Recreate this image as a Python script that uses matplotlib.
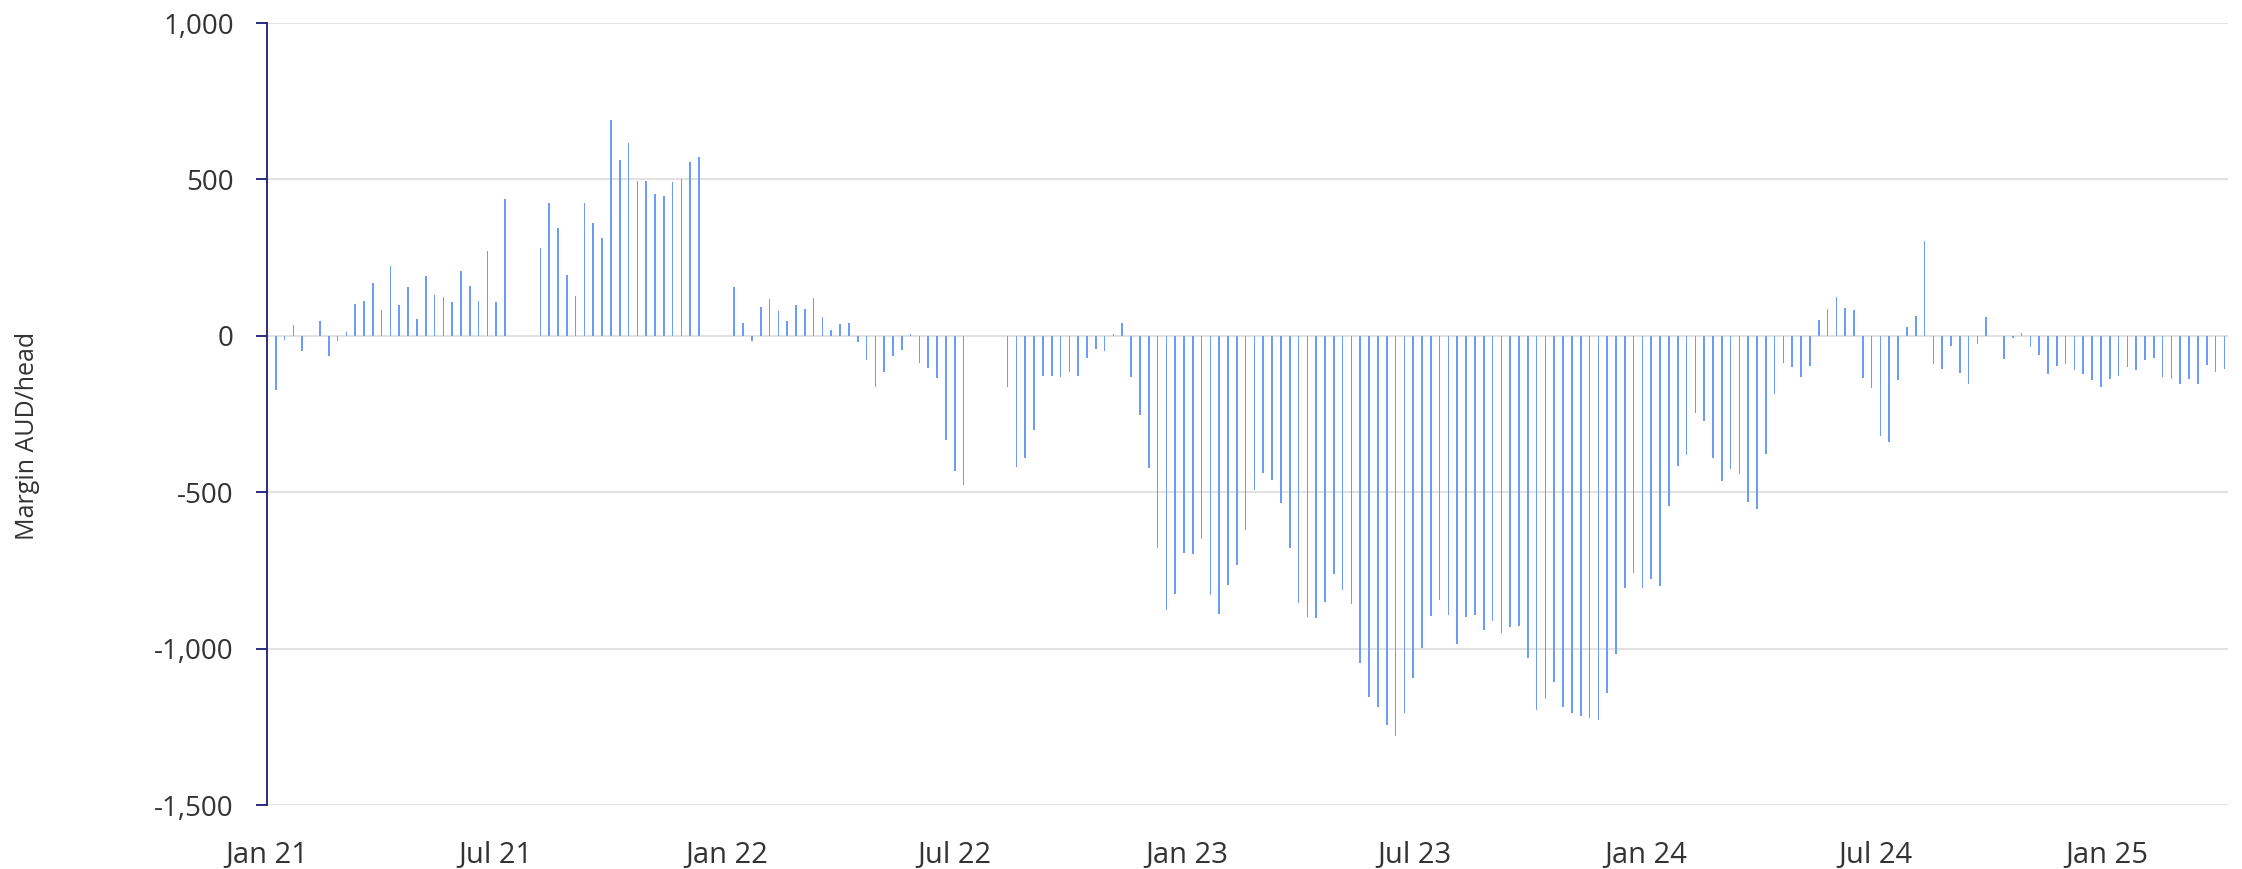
"""
Weekly margin (AUD/head), Jan 2021 - Apr 2025, drawn as thin bars.
"""

import numpy as np
import pandas as pd
import matplotlib
matplotlib.use("Agg")
import matplotlib.pyplot as plt
import matplotlib.dates as mdates
from matplotlib.ticker import FuncFormatter, MultipleLocator

plt.rcParams["font.family"] = ["Open Sans", "DejaVu Sans"]

# Weekly margin readings, one list per calendar year (0 = no reading).
MARGIN_2021 = [
    -172, -12, 36, -48, 0, 49, -65, -18, 11, 102, 111, 170, 82,
    223, 98, 156, 53, 191, 130, 123, 107, 208, 158, 111, 271, 108,
    437, 0, 0, 0, 280, 425, 344, 196, 127, 426, 360, 312, 690,
    562, 616, 496, 496, 453, 447, 491, 502, 555, 571, 0, 0, 0,
]
MARGIN_2022 = [
    156, 40, -16, 93, 118, 80, 47, 97, 85, 120, 60, 18, 38,
    42, -21, -77, -164, -115, -64, -44, 5, -86, -104, -134, -333, -431,
    -478, 0, 0, 0, 0, -162, -418, -392, -301, -127, -130, -131, -115,
    -128, -70, -42, -50, 6, 40, -131, -253, -421, -678, -878, -824, -694,
]
MARGIN_2023 = [
    -699, -650, -829, -889, -795, -732, -622, -492, -440, -460, -533, -679, -855,
    -899, -901, -850, -760, -811, -858, -1046, -1154, -1185, -1245, -1279, -1205, -1094,
    -997, -896, -843, -892, -984, -898, -893, -941, -913, -950, -930, -928, -1030,
    -1196, -1162, -1106, -1188, -1205, -1215, -1223, -1229, -1142, -1016, -805, -757, -806,
]
MARGIN_2024 = [
    -776, -799, -545, -417, -382, -248, -273, -391, -464, -427, -443, -531, -554,
    -377, -187, -87, -99, -132, -95, 52, 85, 123, 90, 82, -134, -166,
    -319, -338, -141, 29, 64, 304, -89, -106, -32, -118, -153, -27, 61,
    1, -73, -7, 9, -37, -61, -121, -98, -89, -109, -121, -141, -162,
]
MARGIN_2025 = [
    -137, -128, -99, -109, -78, -70, -133, -139, -153, -139, -153, -93, -115,
    -107,
]

FIRST_WEEK = "2021-01-08"
Y_LABEL = "Margin AUD/head"
TICK_FORMAT = "%b %y"

BAR_COLOR = "#6d9cf6"
SPINE_COLOR = "#1c1c78"
GRID_COLOR = "#e2e2e2"
TEXT_COLOR = "#333333"


if __name__ == "__main__":
    margin = np.array(MARGIN_2021 + MARGIN_2022 + MARGIN_2023
                      + MARGIN_2024 + MARGIN_2025, dtype=float)
    weeks = pd.date_range(FIRST_WEEK, periods=len(margin), freq="7D")

    fig = plt.figure(figsize=(22.42, 8.69), dpi=100)
    ax = fig.add_axes([0.1191, 0.0736, 0.8747, 0.8999])

    ax.bar(weeks, margin, width=1.3, color=BAR_COLOR, linewidth=0,
           zorder=3)

    ax.set_xlim(pd.Timestamp("2021-01-01"), weeks[-1] + pd.Timedelta(days=3))
    ax.set_ylim(-1500, 1000)

    ax.yaxis.set_major_locator(MultipleLocator(500))
    ax.yaxis.set_major_formatter(FuncFormatter(lambda v, _: f"{v:,.0f}"))
    ax.xaxis.set_major_locator(mdates.MonthLocator(bymonth=[1, 7]))
    ax.xaxis.set_major_formatter(mdates.DateFormatter(TICK_FORMAT))

    ax.grid(axis="y", color=GRID_COLOR, linewidth=1.5, zorder=0)
    ax.grid(axis="x", visible=False)
    for side in ["top", "right", "bottom"]:
        ax.spines[side].set_visible(False)
    ax.spines["left"].set_color(SPINE_COLOR)
    ax.spines["left"].set_linewidth(1.3)
    ax.spines["left"].set_zorder(4)

    ax.tick_params(axis="y", length=8, width=1.3, color=SPINE_COLOR,
                   pad=16, labelsize=20, labelcolor=TEXT_COLOR)
    ax.tick_params(axis="x", length=0, pad=26, labelsize=21,
                   labelcolor=TEXT_COLOR)

    ax.set_ylabel(Y_LABEL, fontsize=18, color=TEXT_COLOR)
    ax.yaxis.set_label_coords(-0.116, 0.472)

    fig.savefig("out.png", dpi=100)
